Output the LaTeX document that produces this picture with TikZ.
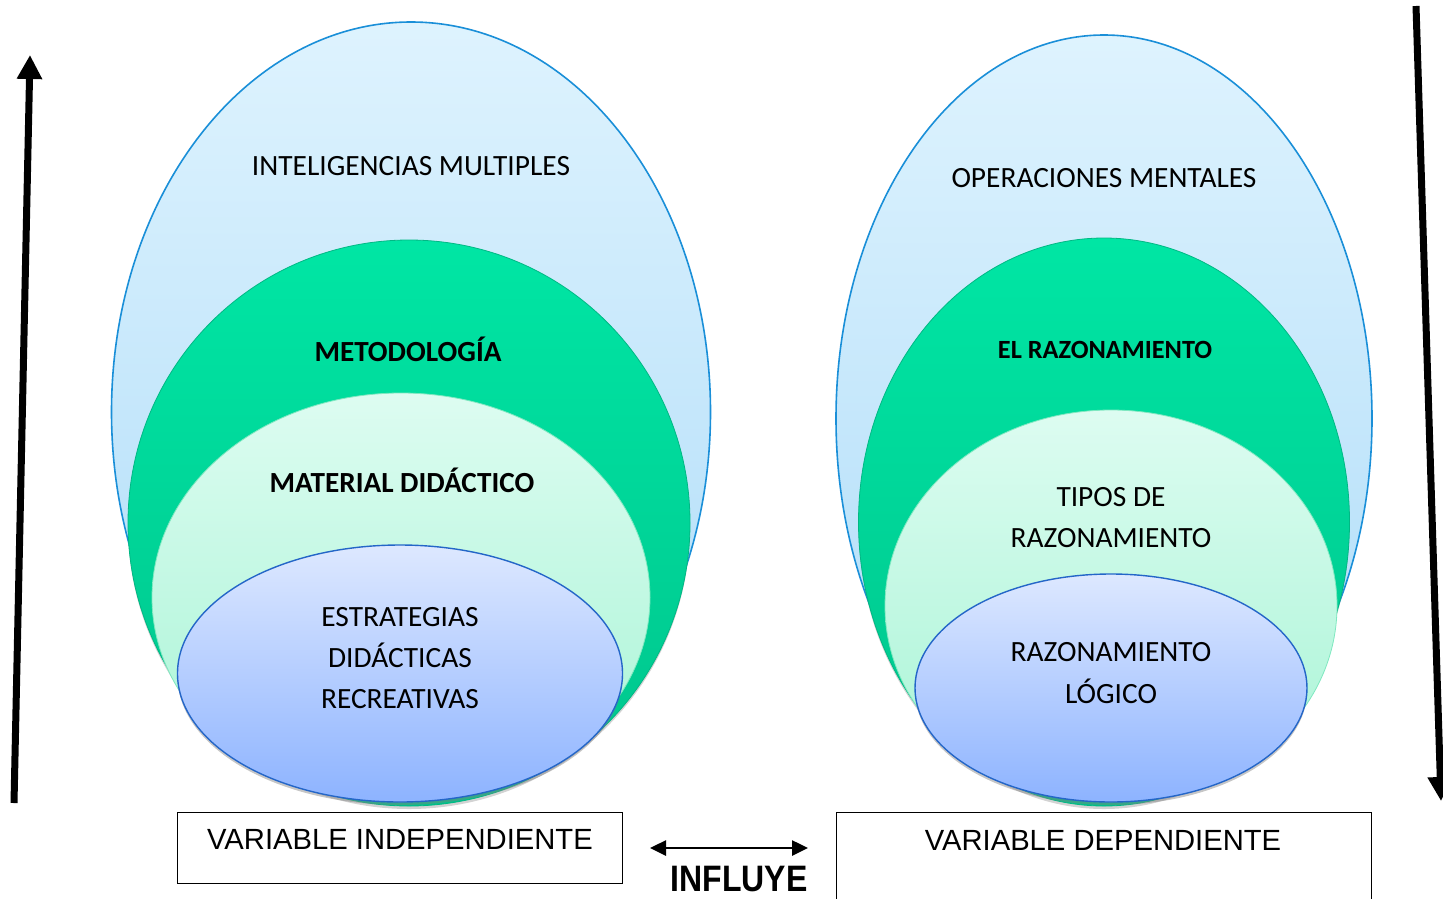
\documentclass[tikz,border=0pt]{standalone}
\usepackage{fontspec}
\setmainfont{Carlito}
\newfontfamily\arialf{Liberation Sans}
\usetikzlibrary{shapes.geometric,arrows.meta,shadows}
\definecolor{outerTop}{HTML}{DEF3FE}
\definecolor{outerBot}{HTML}{ACDBF8}
\definecolor{outerLine}{HTML}{1A8FD8}
\definecolor{greenTop}{HTML}{00E6A4}
\definecolor{greenBot}{HTML}{00C48C}
\definecolor{greenLine}{HTML}{00B884}
\definecolor{mintTop}{HTML}{DDFCF1}
\definecolor{mintBot}{HTML}{A6F4D4}
\definecolor{mintLine}{HTML}{7FE8C0}
\definecolor{innerTop}{HTML}{DDE8FF}
\definecolor{innerBot}{HTML}{8DB3FF}
\definecolor{innerLine}{HTML}{2466C8}
\begin{document}
\begin{tikzpicture}[x=1pt,y=-1pt,
  egg/.style={ellipse, inner sep=0pt, outer sep=0pt},
  outerE/.style={egg, draw=outerLine, line width=1.6pt, top color=outerTop, bottom color=outerBot},
  greenE/.style={egg, draw=greenLine, line width=0.8pt, top color=greenTop, bottom color=greenBot,
     drop shadow={opacity=0.35, shadow xshift=0pt, shadow yshift=-3pt}},
  mintE/.style={egg, draw=mintLine, line width=0.8pt, top color=mintTop, bottom color=mintBot},
  innerE/.style={egg, draw=innerLine, line width=1.4pt, top color=innerTop, bottom color=innerBot,
     drop shadow={opacity=0.45, shadow xshift=0pt, shadow yshift=-3pt}},
  lbl/.style={anchor=base, inner sep=0pt, font=\fontsize{29.4}{35}\selectfont},
  blbl/.style={lbl, font=\fontsize{29.2}{35}\selectfont\bfseries},
  varbox/.style={draw=black, line width=1pt, inner sep=0pt, outer sep=0pt, fill=white},
  vlbl/.style={anchor=base, inner sep=0pt, font=\arialf\fontsize{29.2}{35}\selectfont},
  bigarrow/.style={line width=7pt, -{Triangle[length=24pt,width=24pt]}},
  dblarrow/.style={line width=2.6pt, {Triangle[length=16pt,width=15pt]}-{Triangle[length=16pt,width=15pt]}}
]
\useasboundingbox (0,0) rectangle (1443,898);
\clip (0,0) rectangle (1443,898);

% ---------- left set ----------
\node[outerE, minimum width=599pt, minimum height=780pt] (L1) at (411,412) {};
\node[greenE, minimum width=562pt, minimum height=566pt] (L2) at (409,523) {};
\node[mintE, minimum width=498pt, minimum height=409pt] (L3) at (401,597.5) {};
\node[innerE, minimum width=445pt, minimum height=257pt] (L4) at (400,673.5) {};

\node[lbl] (tL1) at (411,175) {INTELIGENCIAS MULTIPLES};
\node[blbl] (tL2) at (408,361) {METODOLOGÍA};
\node[blbl] (tL3) at (402,492) {MATERIAL DIDÁCTICO};
\node[lbl] (tL4a) at (400,626) {ESTRATEGIAS};
\node[lbl] (tL4b) at (400,667) {DIDÁCTICAS};
\node[lbl] (tL4c) at (400,708) {RECREATIVAS};

% ---------- right set ----------
\node[outerE, minimum width=536pt, minimum height=767pt] (R1) at (1104,418.5) {};
\node[greenE, minimum width=491pt, minimum height=568pt] (R2) at (1104,522) {};
\node[mintE, minimum width=452pt, minimum height=392pt] (R3) at (1111,606) {};
\node[innerE, minimum width=392pt, minimum height=228pt] (R4) at (1111,688) {};

\node[lbl] (tR1) at (1104,187) {OPERACIONES MENTALES};
\node[blbl, font=\fontsize{26.3}{32}\selectfont\bfseries] (tR2) at (1105,358) {EL RAZONAMIENTO};
\node[lbl] (tR3a) at (1111,506) {TIPOS DE};
\node[lbl] (tR3b) at (1111,547) {RAZONAMIENTO};
\node[lbl] (tR4a) at (1111,661) {RAZONAMIENTO};
\node[lbl] (tR4b) at (1111,703) {LÓGICO};

% ---------- variable boxes ----------
\node[varbox, minimum width=445pt, minimum height=71pt] (VI) at (399.5,847.5) {};
\node[vlbl] (tVI) at (400,849) {VARIABLE INDEPENDIENTE};
\node[varbox, minimum width=535pt, minimum height=120pt] (VD) at (1103.5,872) {};
\node[vlbl] (tVD) at (1103,850) {VARIABLE DEPENDIENTE};

% ---------- influye ----------
\coordinate (iA) at (650,848);
\coordinate (iB) at (808,848);
\draw[dblarrow] (iA) -- (iB);
\node[anchor=base, inner sep=0pt, font=\arialf\bfseries\fontsize{32}{38}\selectfont, yscale=1.15] (inf) at (739,891) {INFLUYE};

% ---------- side arrows ----------
\coordinate (la0) at (14,803);
\coordinate (la1) at (30,55);
\draw[bigarrow] (la0) -- (la1);
\coordinate (ra0) at (1416,6);
\coordinate (ra1) at (1441,801);
\draw[bigarrow] (ra0) -- (ra1);
\end{tikzpicture}
\end{document}
